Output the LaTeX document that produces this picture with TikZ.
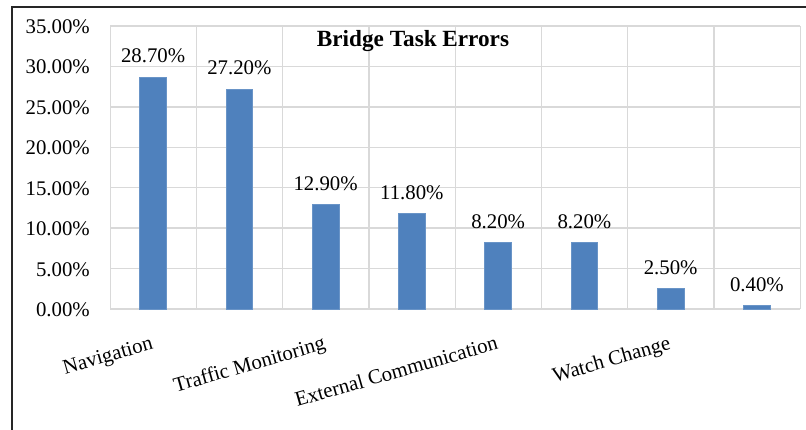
\documentclass[tikz,border=0pt]{standalone}
\usepackage{fontspec}
\setmainfont{Liberation Serif}
\usetikzlibrary{positioning}
\definecolor{barblue}{HTML}{4F81BD}
\definecolor{gridgray}{HTML}{D9D9D9}
\newcommand{\yval}[1]{309-#1*8.0857}
\newcommand{\catx}[1]{110+(#1-0.5)*86.25}
\tikzset{
  grid line/.style={draw=gridgray, line width=1.3pt},
  chart font/.style={font=\fontsize{20.8}{24}\selectfont, inner sep=0pt},
  tick label/.style={chart font, anchor=base east},
  value label/.style={chart font, anchor=base},
  cat label/.style={chart font, anchor=base east, rotate=16},
  chart title/.style={font=\fontsize{23.2}{27}\selectfont\bfseries, inner sep=0pt, anchor=base},
  bar/.style={fill=barblue, draw=barblue!85!white, line width=0.6pt}
}

\begin{document}
\begin{tikzpicture}[x=1pt,y=-1pt]
    \useasboundingbox (0,0) rectangle (806,430);
    % grid and ticks
    \foreach \i in {0,...,8}
      \draw[grid line] ({110.2+\i*86.25},26) -- ({110.2+\i*86.25},309);
    \foreach \v in {0,5,...,35} {
      \draw[grid line] (110,{\yval{\v}}) -- (800.2,{\yval{\v}});
      \node[tick label] (tick\v) at (90,{\yval{\v}+7.5}) {\v.00\%};
    }
    % bars
    \foreach \v/\lab [count=\i] in {28.7/28.70, 27.2/27.20, 12.9/12.90, 11.8/11.80, 8.2/8.20, 8.2/8.20, 2.5/2.50, 0.4/0.40} {
      \draw[bar] ({\catx{\i}-13.4},309) rectangle ++(26.8,{-\v*8.0857});
      \node[value label] (val\i) at ({\catx{\i}},{\yval{\v}-14.5}) {\lab\%};
    }
    % categories
    \foreach \i/\txt in {1/Navigation, 3/Traffic Monitoring, 5/External Communication, 7/Watch Change}
      \node[cat label] (cat\i) at ({\catx{\i}+1},349) {\txt};
    \node[chart title] (title) at (413,46.7) {Bridge Task Errors};
    % frame
    \draw[line width=2pt, black!85] (12,430) -- (12,7) -- (806,7);
\end{tikzpicture}
\end{document}
